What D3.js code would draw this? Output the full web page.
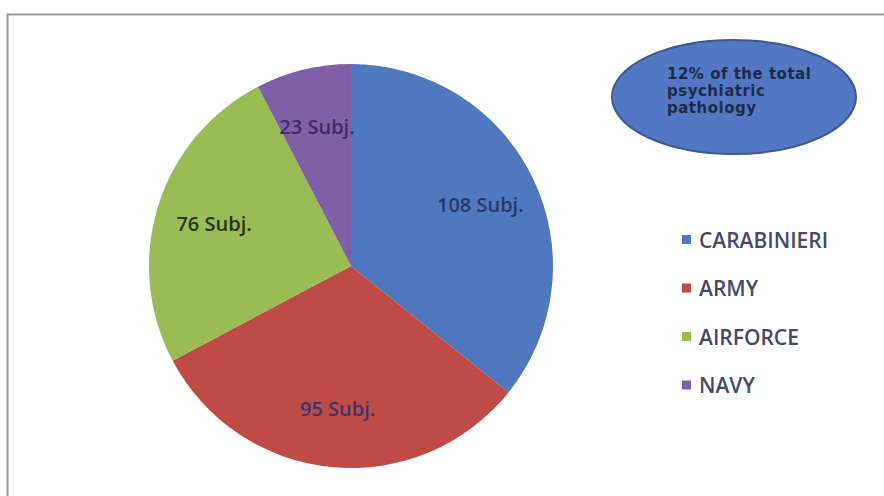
<!DOCTYPE html>
<html>
<head>
<meta charset="utf-8">
<script src="https://cdn.jsdelivr.net/npm/d3@7"></script>
<style>
  html, body { margin: 0; padding: 0; background: #ffffff; }
  svg { display: block; }
</style>
</head>
<body>
<svg id="chart" width="884" height="496"></svg>
<script>
// Service branches and number of subjects in each
const categories = ["CARABINIERI", "ARMY", "AIRFORCE", "NAVY"];
const subjects = [108, 95, 76, 23];
const sliceColors = ["#4f78bf", "#bf4b47", "#9bbb55", "#7f60a6"];
const labelColors = ["#2b3766", "#3e3570", "#2a3518", "#3a2f68"];
const noteLines = ["12% of the total", "psychiatric", "pathology"];

const svg = d3.select("#chart");

// Frame around the slide area
svg.append("rect")
  .attr("x", 7.5).attr("y", 14.5)
  .attr("width", 920).attr("height", 520)
  .attr("fill", "#ffffff")
  .attr("stroke", "#9a9a9a")
  .attr("stroke-width", 2);

const cx = 351, cy = 266, R = 202;

const data = categories.map((c, i) => ({ name: c, value: subjects[i], color: sliceColors[i], labelColor: labelColors[i] }));

const pie = d3.pie().value(d => d.value).sort(null);
const arc = d3.arc().innerRadius(0).outerRadius(R);
const labelArc = d3.arc().innerRadius(R * 0.71).outerRadius(R * 0.71);

const g = svg.append("g").attr("transform", `translate(${cx},${cy})`);
const arcs = pie(data);

g.selectAll("path.slice")
  .data(arcs)
  .join("path")
  .attr("class", "slice")
  .attr("d", arc)
  .attr("fill", d => d.data.color);

g.selectAll("text.lbl")
  .data(arcs)
  .join("text")
  .attr("class", "lbl")
  .attr("transform", d => `translate(${labelArc.centroid(d)})`)
  .attr("text-anchor", "middle")
  .attr("dy", "0.38em")
  .attr("font-family", "'Open Sans', sans-serif")
  .attr("font-size", 20)
  .attr("font-weight", 600)
  .attr("fill", d => d.data.labelColor)
  .text(d => `${d.data.value} Subj.`);

// Legend
const legend = svg.append("g").attr("transform", "translate(682,240)");
const rowStep = 48.5;
const rows = legend.selectAll("g.row")
  .data(data)
  .join("g")
  .attr("class", "row")
  .attr("transform", (d, i) => `translate(0,${i * rowStep})`);
rows.append("rect")
  .attr("x", 0).attr("y", -5)
  .attr("width", 9).attr("height", 9)
  .attr("fill", d => d.color);
rows.append("text")
  .attr("x", 17).attr("dy", "0.36em")
  .attr("font-family", "'Open Sans', sans-serif")
  .attr("font-size", 21)
  .attr("font-weight", 600)
  .attr("fill", "#444a66")
  .text(d => d.name);

// Callout ellipse with note
const note = svg.append("g");
note.append("ellipse")
  .attr("cx", 734).attr("cy", 97)
  .attr("rx", 122).attr("ry", 57)
  .attr("fill", "#5278c3")
  .attr("stroke", "#3b5a8f")
  .attr("stroke-width", 2);
note.selectAll("text")
  .data(noteLines)
  .join("text")
  .attr("x", 667)
  .attr("y", (d, i) => 79 + i * 17)
  .attr("font-family", "'DejaVu Sans', sans-serif")
  .attr("font-size", 15)
  .attr("font-weight", "bold")
  .attr("letter-spacing", 0.5)
  .attr("fill", "#1f2a4a")
  .text(d => d);
</script>
</body>
</html>
